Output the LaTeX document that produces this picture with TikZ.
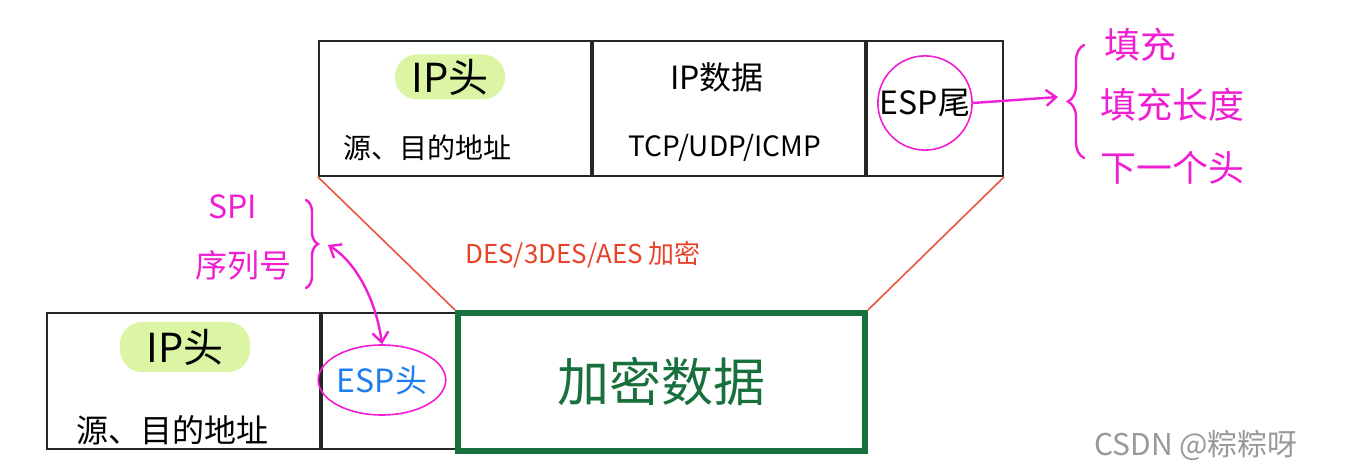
\documentclass[tikz,border=0pt]{standalone}
\usepackage{fontspec}
\setmainfont{Noto Sans CJK SC}
\usetikzlibrary{arrows.meta,shapes.geometric,decorations.pathreplacing,calc}
\definecolor{pinkm}{RGB}{240,30,210}
\definecolor{hilite}{RGB}{220,245,165}
\definecolor{encgreen}{RGB}{24,112,60}
\definecolor{desred}{RGB}{232,66,40}
\definecolor{espblue}{RGB}{30,126,240}
\tikzset{>={Straight Barb[length=5pt,width=8pt]}}
\tikzset{cell/.style={draw=black!85,line width=1pt,minimum height=67.5pt,inner sep=0pt,anchor=north west}}
\tikzset{pinkline/.style={draw=pinkm,line width=1.2pt,line cap=round}}
\tikzset{pinktext/.style={text=pinkm,font=\fs{18}}}
\tikzset{iptag/.style={fill=hilite,rounded corners=11pt,inner sep=0pt}}
\newcommand{\fs}[1]{\fontsize{#1}{#1}\selectfont}

\begin{document}
\begin{tikzpicture}[x=0.5pt,y=-0.5pt]
  \useasboundingbox (0,0) rectangle (1354,469);
  % Original packet
  \node[cell,minimum width=136pt] (iphdr) at (318,40) {};
  \node[cell,minimum width=136pt] (ipdata) at (iphdr.north east) {};
  \node[cell,minimum width=68pt] (esptrl) at (ipdata.north east) {};
  \node[iptag,minimum width=55pt,minimum height=22.5pt,font=\fs{20}] (iplabel) at (450,77) {IP头};
  \node[font=\fs{14}] (addr) at (427,148) {源、目的地址};
  \node[font=\fs{16}] (datalabel) at (717,77) {IP数据};
  \node[font=\fs{14}] (proto) at (725,148) {TCP/UDP/ICMP};
  \node[circle,draw=pinkm,line width=0.8pt,minimum size=47pt,inner sep=0pt,font=\fs{16}] (trl) at (925,103) {ESP尾};
  % Trailer fields
  \coordinate (padtip) at (1058,97);
  \draw[pinkline,->] (trl.east) -- (padtip);
  \draw[pinkline,decorate,decoration={brace,amplitude=8pt}] (1084,158) -- (1084,45);
  \node[pinktext,anchor=west] (pad) at (1097,45) {填充};
  \node[pinktext,anchor=west] (padlen) at (1093,105) {填充长度};
  \node[pinktext,anchor=west] (nexthdr) at (1093,168) {下一个头};
  % Encrypted packet
  \node[cell,minimum width=136.5pt,minimum height=68pt] (iphdrb) at (46,312) {};
  \node[cell,minimum width=68pt,minimum height=68pt] (esphdr) at (iphdrb.north east) {};
  \node[cell,draw=encgreen,line width=3pt,minimum width=203.5pt,minimum height=69pt,text=encgreen,font=\fs{26}] (encdata) at (455,310) {加密数据};
  \node[iptag,minimum width=65pt,minimum height=25pt,font=\fs{20}] (iplabelb) at (185,347) {IP头};
  \node[font=\fs{16}] (addrb) at (172,430) {源、目的地址};
  \node[ellipse,draw=pinkm,line width=0.8pt,minimum width=60pt,minimum height=35pt,inner sep=0pt,text=espblue,font=\fs{16}] (espring) at (382,380) {ESP头};
  % Mapping lines
  \draw[desred!90,line width=0.8pt] (iphdr.south west) -- (encdata.north west);
  \draw[desred!90,line width=0.8pt] (esptrl.south east) -- (encdata.north east);
  \node[text=desred,font=\fs{13}] (cipher) at (583,255) {DES/3DES/AES 加密};
  % Header fields
  \node[pinktext,font=\fs{16}] (spi) at (233,207) {SPI};
  \node[pinktext,font=\fs{16}] (seq) at (243,265) {序列号};
  \draw[pinkline,decorate,decoration={brace,amplitude=6pt}] (306,200) -- (306,288);
  \coordinate (spitip) at (328,245);
  \draw[pinkline,<->] (espring.north) .. controls (376,300) and (356,262) .. (spitip);
  % Watermark
  \node[text=black!40,font=\fs{15}] (mark) at (1196,445) {CSDN @粽粽呀};
\end{tikzpicture}
\end{document}
